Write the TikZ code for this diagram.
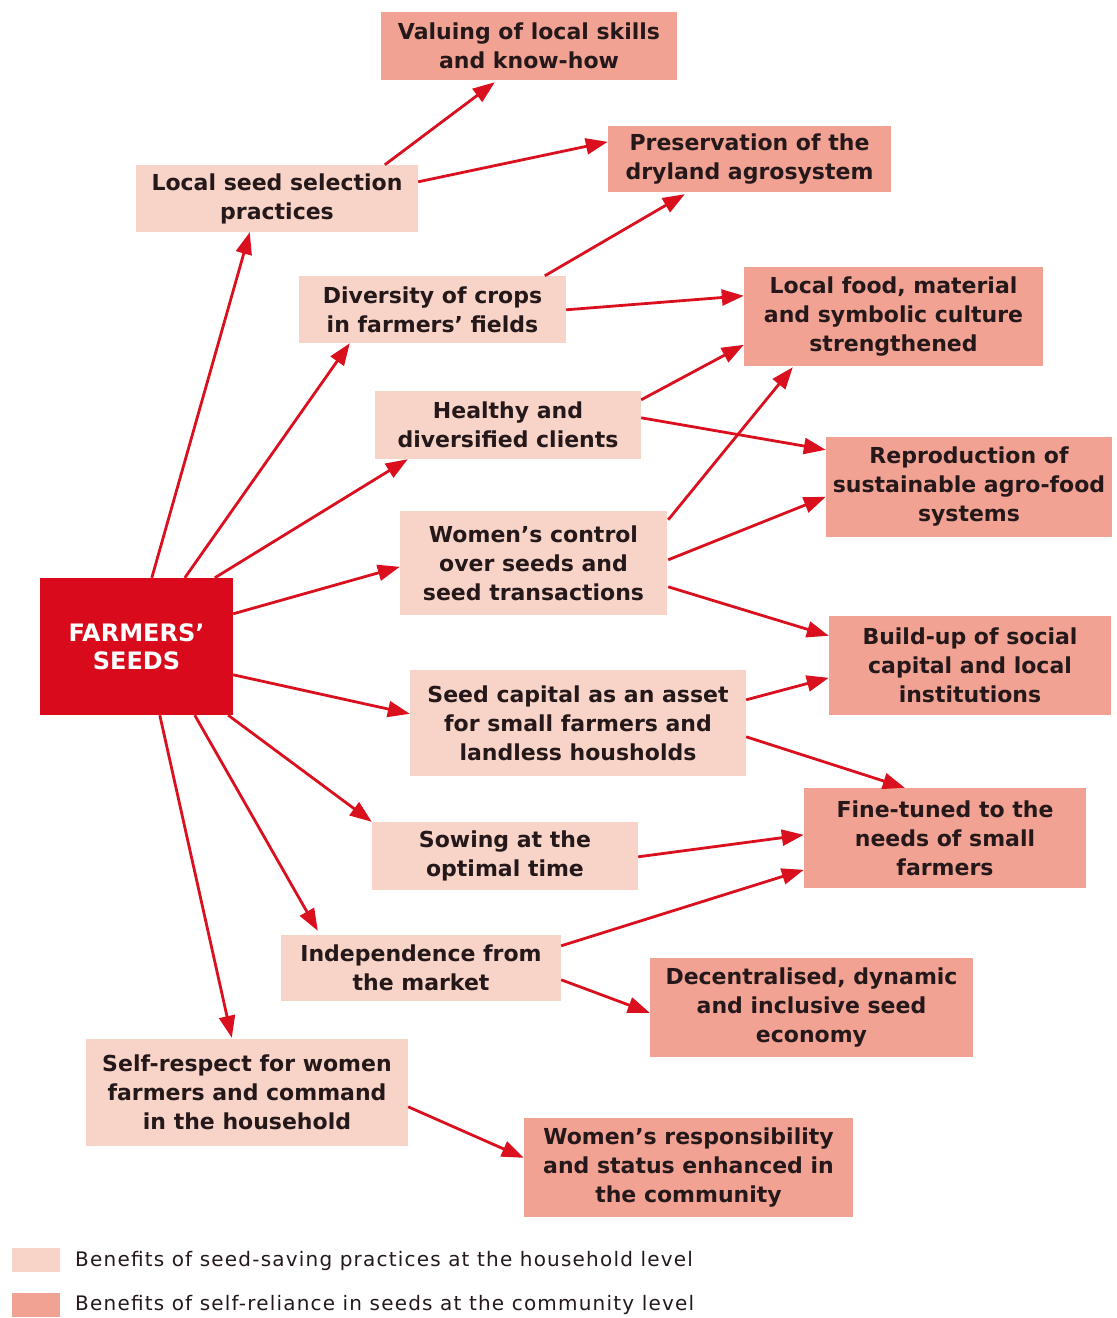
\documentclass[tikz,border=0pt]{standalone}
\usepackage{fontspec}
\setmainfont{DejaVu Sans}
\newfontfamily\legfont[LetterSpace=6]{DejaVu Sans}
\usetikzlibrary{arrows.meta,calc}
\definecolor{fsred}{RGB}{216,10,28}
\definecolor{lightbox}{RGB}{248,212,200}
\definecolor{darkbox}{RGB}{241,162,147}
\definecolor{arrowred}{RGB}{218,16,31}
\definecolor{txt}{RGB}{36,24,26}
\tikzset{
  basebox/.style={inner sep=0pt, align=center, text=txt,
    font=\bfseries\fontsize{22}{29}\selectfont},
  hh/.style={basebox, fill=lightbox},
  cc/.style={basebox, fill=darkbox},
  core/.style={basebox, fill=fsred, text=white, font=\bfseries\fontsize{24}{28}\selectfont},
  arr/.style={draw=arrowred, line width=2.8pt, -{Triangle[length=22pt,width=16pt]}},
  legsw/.style={inner sep=0pt, minimum width=48pt, minimum height=24pt},
  legtxt/.style={inner sep=0pt, text=txt, font=\legfont\fontsize{20}{22}\selectfont}
}
\begin{document}
\begin{tikzpicture}[x=1pt,y=-1pt]
\useasboundingbox (0,0) rectangle (1117,1318);

% nodes
\node[cc, minimum width=296pt, minimum height=68pt] (val) at (529,46) {Valuing of local skills\\and know-how};
\node[hh, minimum width=282pt, minimum height=67pt] (lss) at (277,198.5) {Local seed selection\\practices};
\node[cc, minimum width=283pt, minimum height=66pt] (pres) at (749.5,159) {Preservation of the\\dryland agrosystem};
\node[hh, minimum width=267pt, minimum height=67pt] (div) at (432.5,309.5) {Diversity of crops\\in farmers’ fields};
\node[cc, minimum width=299pt, minimum height=99pt] (food) at (893.5,316.5) {Local food, material\\and symbolic culture\\strengthened};
\node[hh, minimum width=266pt, minimum height=68pt] (heal) at (508,425) {Healthy and\\diversified clients};
\node[cc, minimum width=286pt, minimum height=100pt] (repr) at (969,487) {Reproduction of\\sustainable agro-food\\systems};
\node[hh, minimum width=267pt, minimum height=104pt] (wom) at (533.5,563) {Women’s control\\over seeds and\\seed transactions};
\node[core, minimum width=193pt, minimum height=137pt] (fs) at (136.5,646.5) {FARMERS’\\SEEDS};
\node[cc, minimum width=282pt, minimum height=99pt] (build) at (970,665.5) {Build-up of social\\capital and local\\institutions};
\node[hh, minimum width=336pt, minimum height=106pt] (cap) at (578,723) {Seed capital as an asset\\for small farmers and\\landless housholds};
\node[cc, minimum width=282pt, minimum height=100pt] (fine) at (945,838) {Fine-tuned to the\\needs of small\\farmers};
\node[hh, minimum width=266pt, minimum height=68pt] (sow) at (505,856) {Sowing at the\\optimal time};
\node[hh, minimum width=280pt, minimum height=66pt] (ind) at (421,968) {Independence from\\the market};
\node[cc, minimum width=323pt, minimum height=99pt] (dec) at (811.5,1007.5) {Decentralised, dynamic\\and inclusive seed\\economy};
\node[hh, minimum width=322pt, minimum height=107pt] (self) at (247,1092.5) {Self-respect for women\\farmers and command\\in the household};
\node[cc, minimum width=329pt, minimum height=99pt] (wres) at (688.5,1167.5) {Women’s responsibility\\and status enhanced in\\the community};

% legend
\node[legsw, fill=lightbox] (sw1) at (36,1260) {};
\node[legtxt, anchor=west] (lt1) at (75,1261) {Benefits of seed-saving practices at the household level};
\node[legsw, fill=darkbox] (sw2) at (36,1304.5) {};
\node[legtxt, anchor=west] (lt2) at (75,1305) {Benefits of self-reliance in seeds at the community level};

% arrows from farmers' seeds
\draw[arr] ($(fs.north west)+(112,0)$) -- ($(lss.south west)+(114,0)$);
\draw[arr] ($(fs.north west)+(145,0)$) -- ($(div.south west)+(51,0)$);
\draw[arr] ($(fs.north west)+(175,0)$) -- ($(heal.south west)+(33,0)$);
\draw[arr] ($(fs.north east)+(0,36)$) -- ($(wom.north west)+(0,56)$);
\draw[arr] ($(fs.north east)+(0,97)$) -- ($(cap.north west)+(0,44)$);
\draw[arr] ($(fs.south east)+(-5,0)$) -- (sow.north west);
\draw[arr] ($(fs.south west)+(155,0)$) -- ($(ind.north west)+(37,-4)$);
\draw[arr] ($(fs.south west)+(120,0)$) -- ($(self.north west)+(146,-1)$);

% second-level arrows
\draw[arr] ($(lss.north west)+(249,0)$) -- ($(val.south west)+(114,2)$);
\draw[arr] ($(lss.north east)+(0,17)$) -- ($(pres.north west)+(0,16)$);
\draw[arr] ($(div.north west)+(246,0)$) -- ($(pres.south west)+(77,2)$);
\draw[arr] ($(div.north east)+(0,34)$) -- ($(food.north west)+(0,29)$);
\draw[arr] ($(heal.north east)+(0,9)$) -- ($(food.north west)+(0,78)$);
\draw[arr] ($(heal.north east)+(0,27)$) -- ($(repr.north west)+(0,13)$);
\draw[arr] ($(wom.north east)+(1,9)$) -- ($(food.south west)+(49,1)$);
\draw[arr] ($(wom.north east)+(1,49)$) -- ($(repr.north west)+(0,60)$);
\draw[arr] ($(wom.north east)+(1,76)$) -- ($(build.north west)+(0,20)$);
\draw[arr] ($(cap.north east)+(0,30)$) -- ($(build.north west)+(0,62)$);
\draw[arr] ($(cap.north east)+(0,67)$) -- ($(fine.north west)+(101,0)$);
\draw[arr] ($(sow.north east)+(0,35)$) -- ($(fine.north west)+(0,47)$);
\draw[arr] ($(ind.north east)+(0,11)$) -- ($(fine.north west)+(0,82)$);
\draw[arr] ($(ind.north east)+(0,45)$) -- ($(dec.north west)+(0,55)$);
\draw[arr] ($(self.north east)+(0,68)$) -- ($(wres.north west)+(0,40)$);
\end{tikzpicture}
\end{document}
